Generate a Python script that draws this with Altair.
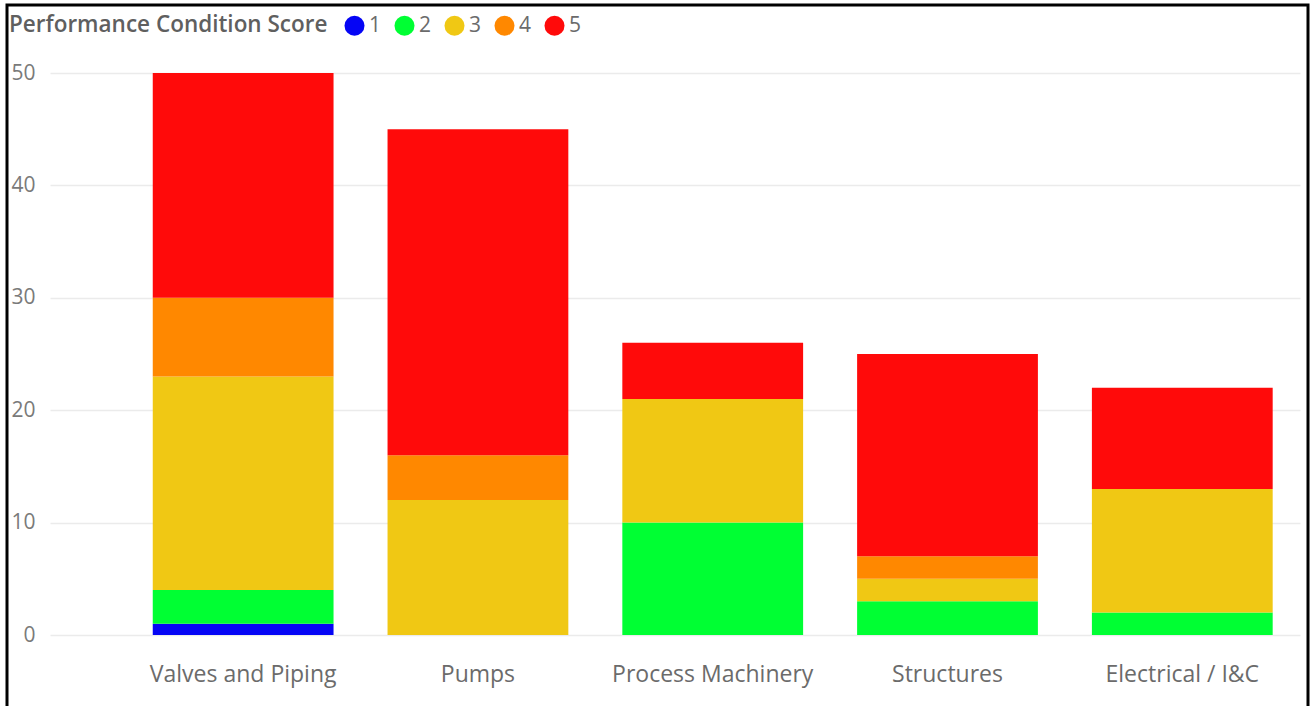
import altair as alt
import pandas as pd

categories = ["Valves and Piping", "Pumps", "Process Machinery", "Structures", "Electrical / I&C"]
scores = ["1", "2", "3", "4", "5"]
# counts per score, one list per score, in category order
score_1 = [1, 0, 0, 0, 0]
score_2 = [3, 0, 10, 3, 2]
score_3 = [19, 12, 11, 2, 11]
score_4 = [7, 4, 0, 2, 0]
score_5 = [20, 29, 5, 18, 9]
colors = ["#0505F5", "#00FF33", "#F0C814", "#FF8800", "#FF0A0A"]

rows = []
for s, vals in zip(scores, [score_1, score_2, score_3, score_4, score_5]):
    for c, v in zip(categories, vals):
        if v:
            rows.append({"category": c, "score": s, "count": v})
df = pd.DataFrame(rows)

FONT = "Open Sans"

bars = alt.Chart(df).mark_bar().encode(
    x=alt.X("category:N", sort=categories, title=None,
            scale=alt.Scale(paddingInner=0.23, paddingOuter=0.277, align=0.79),
            axis=alt.Axis(labelAngle=0, ticks=False, domain=False, grid=False,
                          labelPadding=28, labelFontSize=23, labelColor="#6B6B6B",
                          labelFont=FONT, labelLimit=500)),
    y=alt.Y("count:Q", stack="zero", title=None,
            scale=alt.Scale(domain=[0, 50], nice=False),
            axis=alt.Axis(values=[0, 10, 20, 30, 40, 50], ticks=False, domain=False,
                          labelPadding=15, labelFontSize=21, labelColor="#7A7A7A",
                          labelFont=FONT, gridColor="#EBEBEB", gridWidth=1.5)),
    color=alt.Color("score:N", scale=alt.Scale(domain=scores, range=colors),
                    legend=alt.Legend(title="Performance Condition Score",
                                      orient="none", legendX=-41, legendY=-58,
                                      direction="horizontal", titleOrient="left",
                                      titleFont=FONT, titleFontSize=22.5,
                                      titleFontWeight=600, titleColor="#5F5F5F",
                                      titleLimit=1000, titlePadding=16,
                                      titleBaseline="middle",
                                      labelFont=FONT, labelFontSize=21,
                                      labelColor="#6B6B6B", labelOffset=4,
                                      symbolType="circle", symbolSize=400,
                                      symbolStrokeWidth=0, symbolOpacity=1,
                                      columnPadding=12)),
    order=alt.Order("score:N", sort="ascending"),
)

frame = alt.Chart(pd.DataFrame({"k": [0]})).mark_rect(
    fill=None, stroke="#000000", strokeWidth=3
).encode(x=alt.value(-43), x2=alt.value(1258), y=alt.value(-68), y2=alt.value(640))

chart = alt.layer(bars, frame).properties(
    width=1250, height=562,
    background="#FFFFFF",
    autosize=alt.AutoSizeParams(type="none"),
    padding={"left": 50, "top": 73, "right": 12, "bottom": 71},
).configure_view(strokeWidth=0, stroke=None)

chart.save("out.html", embed_options={"renderer": "svg", "actions": False})
